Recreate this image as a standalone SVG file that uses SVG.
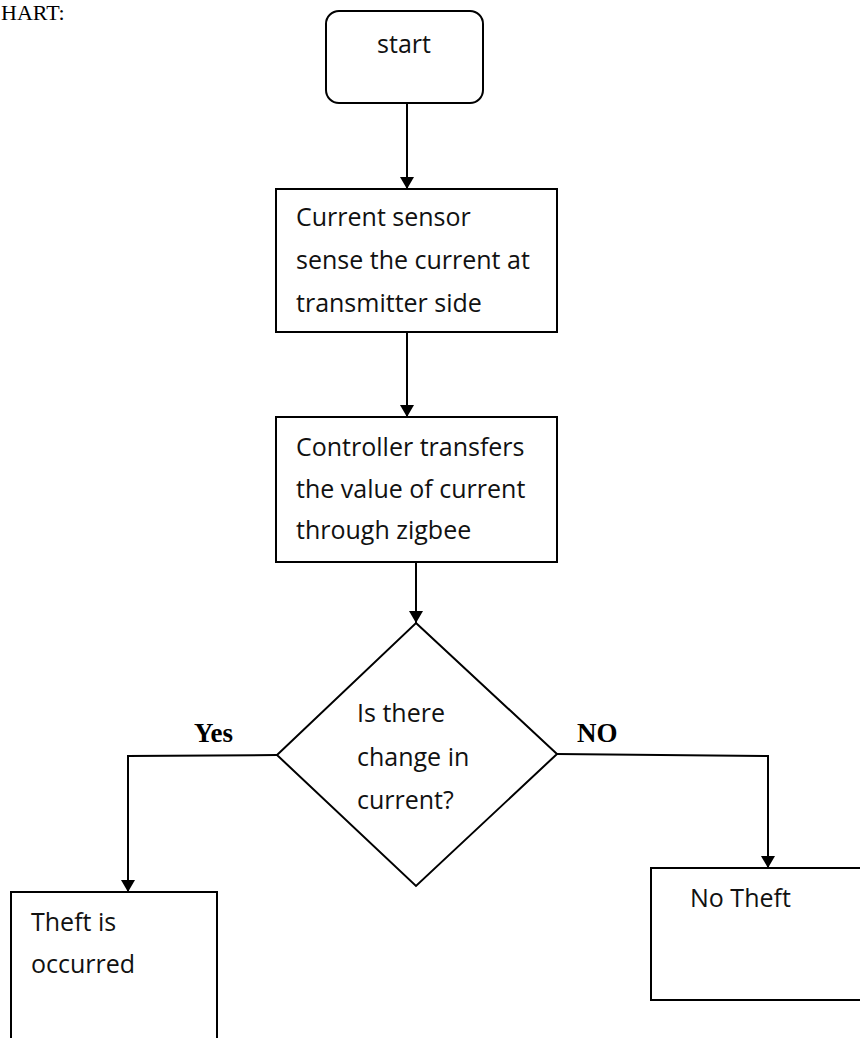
<svg xmlns="http://www.w3.org/2000/svg" width="860" height="1038" viewBox="0 0 860 1038">
<style>
.box{fill:#fff;stroke:#000;stroke-width:2}
.t{font-family:"Open Sans","Noto Sans","Liberation Sans",sans-serif;font-size:25px;fill:#111}
.lbl{font-family:"Liberation Serif",serif;font-size:27px;font-weight:bold;fill:#000}
.c{fill:none;stroke:#000;stroke-width:2}
</style>
<defs>
<marker id="ah" markerWidth="12" markerHeight="14" refX="12" refY="7" orient="auto" markerUnits="userSpaceOnUse">
<path d="M0,0 L12,7 L0,14 Z" fill="#000"/>
</marker>
</defs>
<text x="1" y="20" font-family="Liberation Serif,serif" font-size="22" fill="#000">HART:</text>
<g id="connectors">
<line class="c" x1="407" y1="103" x2="407" y2="189" marker-end="url(#ah)"/>
<line class="c" x1="407" y1="332" x2="407" y2="417" marker-end="url(#ah)"/>
<line class="c" x1="416" y1="562" x2="416" y2="623" marker-end="url(#ah)"/>
<polyline class="c" points="277,755 128,756 128,892" marker-end="url(#ah)"/>
<polyline class="c" points="557,754 768,756 768,868" marker-end="url(#ah)"/>
</g>
<g id="start">
<rect class="box" x="326" y="11" width="157" height="92" rx="13"/>
<text class="t" x="404" y="53" text-anchor="middle">start</text>
</g>
<g id="sense">
<rect class="box" x="276" y="189" width="281" height="143"/>
<text class="t" x="296" y="226">Current sensor</text>
<text class="t" x="296" y="269">sense the current at</text>
<text class="t" x="296" y="312">transmitter side</text>
</g>
<g id="transfer">
<rect class="box" x="276" y="417" width="281" height="145"/>
<text class="t" x="296" y="456">Controller transfers</text>
<text class="t" x="296" y="498">the value of current</text>
<text class="t" x="296" y="539">through zigbee</text>
</g>
<g id="decision">
<polygon class="box" points="416,623 557,754 416,886 277,755"/>
<text class="t" x="357" y="722">Is there</text>
<text class="t" x="357" y="766">change in</text>
<text class="t" x="357" y="809">current?</text>
</g>
<text class="lbl" x="194" y="742">Yes</text>
<text class="lbl" x="577" y="742">NO</text>
<g id="theft">
<rect class="box" x="11" y="892" width="206" height="160"/>
<text class="t" x="31" y="931">Theft is</text>
<text class="t" x="31" y="973">occurred</text>
</g>
<g id="notheft">
<rect class="box" x="651" y="868" width="215" height="132"/>
<text class="t" x="690" y="907">No Theft</text>
</g>
</svg>
